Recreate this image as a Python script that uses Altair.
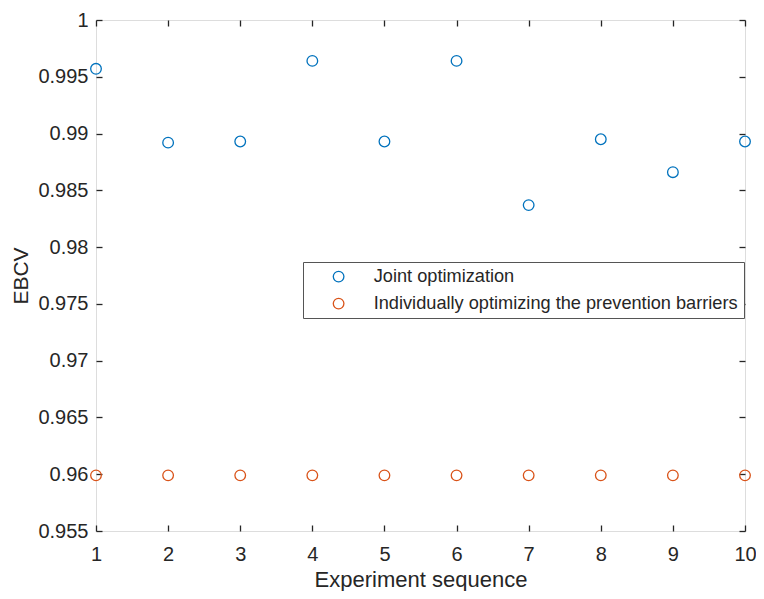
import altair as alt
import pandas as pd

experiments = [1, 2, 3, 4, 5, 6, 7, 8, 9, 10]
joint = [0.9957, 0.9892, 0.9893, 0.9964, 0.9893, 0.9964, 0.9837, 0.9895, 0.9866, 0.9893]
individual = [0.9599, 0.9599, 0.9599, 0.9599, 0.9599, 0.9599, 0.9599, 0.9599, 0.9599, 0.9599]
series_names = ["Joint optimization", "Individually optimizing the prevention barriers"]
series_colors = ["#0072BD", "#D95319"]
x_ticks = [1, 2, 3, 4, 5, 6, 7, 8, 9, 10]
y_ticks = [0.955, 0.96, 0.965, 0.97, 0.975, 0.98, 0.985, 0.99, 0.995, 1.0]

rows = []
for name, vals in zip(series_names, [joint, individual]):
    for e, v in zip(experiments, vals):
        rows.append({"exp": e, "ebcv": v, "series": name})
df = pd.DataFrame(rows)

FONT = "Liberation Sans"
TXT = "#262626"
TICK = 6

xscale = alt.Scale(domain=[1, 10], nice=False, zero=False)
yscale = alt.Scale(domain=[0.955, 1.0], nice=False, zero=False)

main = alt.Chart(df).mark_point(shape="circle", filled=False, size=113, strokeWidth=1.3, opacity=1).encode(
    x=alt.X("exp:Q", scale=xscale, axis=alt.Axis(
        values=x_ticks, orient="bottom", title="Experiment sequence", ticks=False, domain=False,
        grid=False, labelFontSize=20, labelPadding=13, labelColor=TXT, labelFont=FONT,
        titleFontSize=22, titleFont=FONT, titleFontWeight="normal", titleColor=TXT, titlePadding=5,
        labelFlush=False)),
    y=alt.Y("ebcv:Q", scale=yscale, axis=alt.Axis(
        values=y_ticks, orient="left", title="EBCV", ticks=False, domain=False, grid=False,
        labelExpr="format(datum.value, '.3~f')",
        labelFontSize=20, labelPadding=8, labelColor=TXT, labelFont=FONT,
        titleFontSize=21, titleFont=FONT, titleFontWeight="normal", titleColor=TXT, titlePadding=6,
        labelFlush=False)),
    color=alt.Color("series:N", scale=alt.Scale(domain=series_names, range=series_colors),
                    legend=alt.Legend(title=None, orient="none", legendX=207, legendY=242,
                                      strokeColor="#555555", fillColor="white", padding=5.5,
                                      labelFontSize=18.2, labelFont=FONT, labelColor=TXT, labelLimit=0,
                                      symbolSize=113, symbolStrokeWidth=1.3, symbolType="circle",
                                      symbolOffset=21, labelOffset=26, rowPadding=8,
                                      cornerRadius=0)),
)

def tick_axis(orient, values):
    return alt.Axis(values=values, orient=orient, offset=-TICK, tickSize=TICK, labels=False,
                    domain=False, grid=False, title=None, tickColor=TXT, tickWidth=1.3)

def tick_layer(xo, yo):
    return alt.Chart(df).mark_point(opacity=0).encode(
        x=alt.X("exp:Q", scale=xscale, axis=tick_axis(xo, x_ticks)),
        y=alt.Y("ebcv:Q", scale=yscale, axis=tick_axis(yo, y_ticks)),
    )

chart = alt.layer(tick_layer("bottom", "left"), tick_layer("top", "right"), main).resolve_axis(
    x="independent", y="independent"
).properties(
    width=649, height=511,
    autosize=alt.AutoSizeParams(type="none"),
    padding={"left": 88, "top": 12, "right": 11, "bottom": 60},
).configure_view(stroke=TXT, strokeWidth=1.2).configure(background="white")

chart.save("out.html", embed_options={"renderer": "svg", "actions": False})
